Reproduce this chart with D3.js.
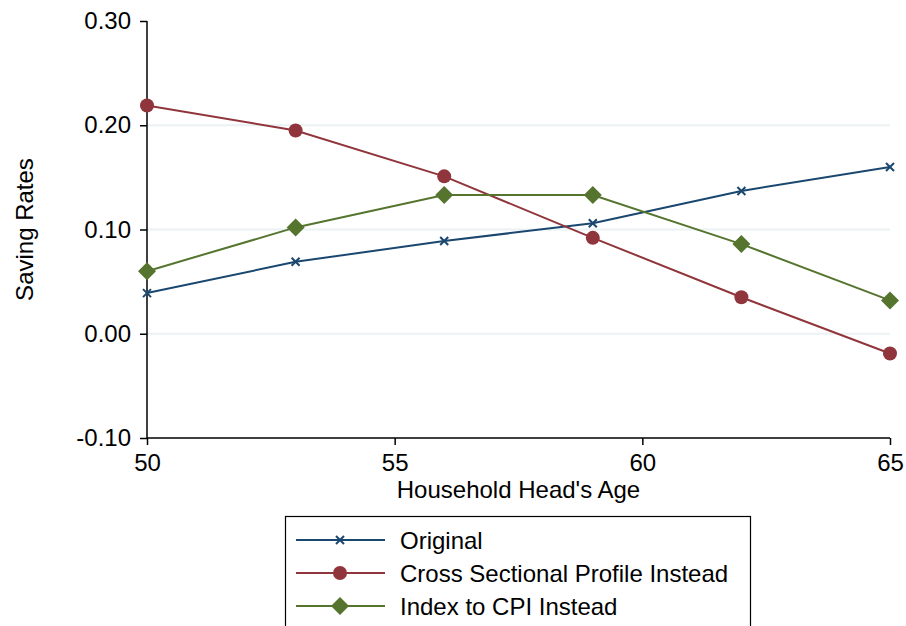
<!DOCTYPE html>
<html>
<head>
<meta charset="utf-8">
<script src="https://cdn.jsdelivr.net/npm/d3@7"></script>
<style>
  body { margin: 0; background: #fff; }
  text { font-family: "Liberation Sans", Arial, sans-serif; fill: #000; }
</style>
</head>
<body>
<div class="chart"></div>
<script>
  'use strict';

  // ages on the x axis
  var ages = [50, 53, 56, 59, 62, 65];

  // saving rates per series
  var original   = [0.039, 0.069, 0.089, 0.106, 0.137, 0.160];
  var crossSect  = [0.219, 0.195, 0.151, 0.092, 0.035, -0.019];
  var cpiIndex   = [0.060, 0.102, 0.133, 0.133, 0.086, 0.032];

  var seriesNames = ['Original', 'Cross Sectional Profile Instead', 'Index to CPI Instead'];

  var xTicks = [50, 55, 60, 65];
  var yTicks = [-0.10, 0.00, 0.10, 0.20, 0.30];
  var yTickLabels = ['-0.10', '0.00', '0.10', '0.20', '0.30'];
  var gridTicks = [0.00, 0.10, 0.20];

  var W = 906, H = 626;
  var margin = {left: 147, right: 16, top: 21, bottom: 188};
  var fontSize = 24;

  var svg = d3.select('.chart')
    .append('svg')
    .attr('width', W)
    .attr('height', H);

  var x = d3.scaleLinear().domain([50, 65]).range([margin.left, W - margin.right]);
  var y = d3.scaleLinear().domain([-0.10, 0.30]).range([H - margin.bottom, margin.top]);

  // light grid lines
  svg.append('g').selectAll('line')
    .data(gridTicks)
    .enter().append('line')
    .attr('x1', x(50)).attr('x2', x(65))
    .attr('y1', function(d) { return y(d); })
    .attr('y2', function(d) { return y(d); })
    .attr('stroke', '#eaf2f3')
    .attr('stroke-width', 2);

  // axes
  var yAxis = svg.append('g')
    .attr('transform', 'translate(' + x(50) + ',0)')
    .call(d3.axisLeft(y).tickValues(yTicks)
      .tickFormat(function(d, i) { return yTickLabels[i]; })
      .tickSize(7).tickPadding(9));

  var xAxis = svg.append('g')
    .attr('transform', 'translate(0,' + y(-0.10) + ')')
    .call(d3.axisBottom(x).tickValues(xTicks).tickFormat(d3.format('d')).tickSize(7).tickPadding(9));

  [xAxis, yAxis].forEach(function(a) {
    a.select('.domain').attr('stroke', '#000').attr('stroke-width', 1.5);
    a.selectAll('.tick line').attr('stroke', '#000').attr('stroke-width', 1.5);
    a.selectAll('.tick text').attr('font-size', fontSize).attr('fill', '#000')
      .attr('font-family', '"Liberation Sans", Arial, sans-serif');
  });
  // no outer end-caps
  xAxis.select('.domain').attr('d', 'M' + x(50) + ',0H' + x(65));
  yAxis.select('.domain').attr('d', 'M0,' + y(-0.10) + 'V' + y(0.30));

  // axis titles
  svg.append('text')
    .attr('x', (x(50) + x(65)) / 2)
    .attr('y', 498)
    .attr('text-anchor', 'middle')
    .attr('font-size', fontSize)
    .text("Household Head's Age");

  svg.append('text')
    .attr('transform', 'translate(33,' + y(0.10) + ') rotate(-90)')
    .attr('text-anchor', 'middle')
    .attr('font-size', fontSize)
    .text('Saving Rates');

  var colors = ['#1a476f', '#90353b', '#55752f'];
  var allSeries = [original, crossSect, cpiIndex];

  var line = d3.line()
    .x(function(d, i) { return x(ages[i]); })
    .y(function(d) { return y(d); });

  function drawMarker(g, k, cx, cy) {
    if (k === 0) {
      g.append('path')
        .attr('d', 'M' + (cx - 4) + ',' + (cy - 4) + 'L' + (cx + 4) + ',' + (cy + 4) +
                   'M' + (cx - 4) + ',' + (cy + 4) + 'L' + (cx + 4) + ',' + (cy - 4))
        .attr('stroke', colors[k]).attr('stroke-width', 2).attr('fill', 'none');
    } else if (k === 1) {
      g.append('circle').attr('cx', cx).attr('cy', cy).attr('r', 7).attr('fill', colors[k]);
    } else {
      var r = 9;
      g.append('path')
        .attr('d', 'M' + cx + ',' + (cy - r) + 'L' + (cx + r) + ',' + cy +
                   'L' + cx + ',' + (cy + r) + 'L' + (cx - r) + ',' + cy + 'Z')
        .attr('fill', colors[k]);
    }
  }

  allSeries.forEach(function(vals, k) {
    var g = svg.append('g');
    g.append('path')
      .datum(vals)
      .attr('d', line)
      .attr('fill', 'none')
      .attr('stroke', colors[k])
      .attr('stroke-width', 2);
    vals.forEach(function(v, i) {
      drawMarker(g, k, x(ages[i]), y(v));
    });
  });

  // legend box (runs off the bottom, like the original)
  var legend = svg.append('g');
  legend.append('rect')
    .attr('x', 285.5).attr('y', 516.5)
    .attr('width', 465).attr('height', 130)
    .attr('fill', '#fff').attr('stroke', '#000').attr('stroke-width', 1.2);

  seriesNames.forEach(function(name, k) {
    var ly = 540 + k * 33;
    legend.append('line')
      .attr('x1', 296).attr('x2', 385)
      .attr('y1', ly).attr('y2', ly)
      .attr('stroke', colors[k]).attr('stroke-width', 2);
    drawMarker(legend, k, 340, ly);
    legend.append('text')
      .attr('x', 400).attr('y', ly + 9)
      .attr('font-size', fontSize)
      .text(name);
  });
</script>
</body>
</html>
